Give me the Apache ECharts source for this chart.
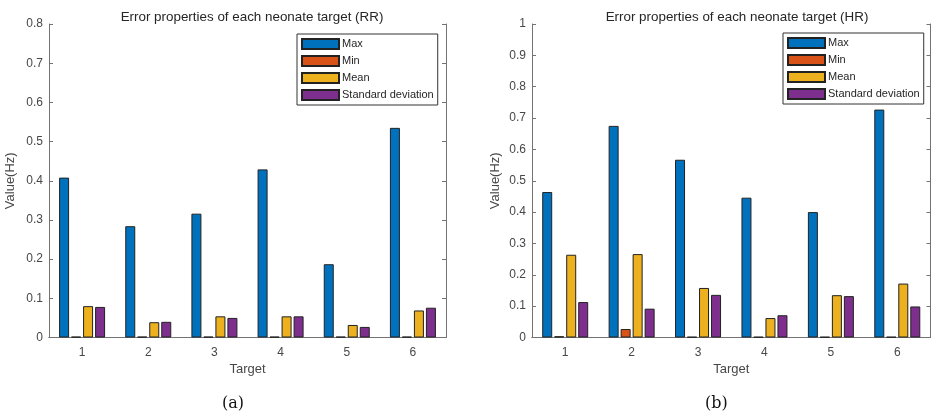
<!DOCTYPE html>
<html>
<head>
<meta charset="utf-8">
<script src="https://cdn.jsdelivr.net/npm/echarts@6/dist/echarts.min.js"></script>
<style>
  html, body { margin: 0; padding: 0; background: #fff; }
  #chart { width: 931px; height: 418px; }
</style>
</head>
<body>
<div id="chart"></div>
<script>
// Targets on the x axis
const targets = ['1', '2', '3', '4', '5', '6'];
const seriesNames = ['Max', 'Min', 'Mean', 'Standard deviation'];
const seriesColors = ['#0072BD', '#D95319', '#EDB120', '#7E2F8E'];

// Respiratory rate errors (Hz)
const rrMax  = [0.408, 0.284, 0.316, 0.429, 0.187, 0.535];
const rrMin  = [0.002, 0.002, 0.002, 0.002, 0.002, 0.002];
const rrMean = [0.080, 0.039, 0.054, 0.054, 0.032, 0.069];
const rrStd  = [0.078, 0.040, 0.050, 0.054, 0.027, 0.076];

// Heart rate errors (Hz)
const hrMax  = [0.464, 0.675, 0.567, 0.446, 0.400, 0.727];
const hrMin  = [0.004, 0.027, 0.002, 0.002, 0.002, 0.002];
const hrMean = [0.264, 0.266, 0.158, 0.062, 0.135, 0.172];
const hrStd  = [0.113, 0.092, 0.136, 0.071, 0.132, 0.099];

const axisColor = '#737373';
const labelColor = '#474747';
const font = 'Liberation Sans, Arial, sans-serif';

function xAxes(gridIndex) {
  return [
    {
      type: 'category', gridIndex, data: targets, position: 'bottom',
      name: 'Target', nameLocation: 'middle', nameGap: 25,
      nameTextStyle: { color: labelColor, fontSize: 13, fontFamily: font },
      axisLine: { lineStyle: { color: axisColor } },
      axisTick: { inside: true, alignWithLabel: true, length: 4, lineStyle: { color: axisColor } },
      axisLabel: { color: labelColor, fontSize: 12, fontFamily: font, margin: 9 },
      splitLine: { show: false }
    },
    {
      type: 'category', gridIndex, data: targets, position: 'top',
      axisLine: { lineStyle: { color: axisColor } },
      axisTick: { inside: true, alignWithLabel: true, length: 4, lineStyle: { color: axisColor } },
      axisLabel: { show: false },
      splitLine: { show: false }
    }
  ];
}

function yAxes(gridIndex, max, nameGap) {
  return [
    {
      type: 'value', gridIndex, min: 0, max, interval: 0.1, position: 'left',
      name: 'Value(Hz)', nameLocation: 'middle', nameGap,
      nameTextStyle: { color: labelColor, fontSize: 13, fontFamily: font },
      axisLine: { show: true, lineStyle: { color: axisColor } },
      axisTick: { show: true, inside: true, length: 4, lineStyle: { color: axisColor } },
      axisLabel: { color: labelColor, fontSize: 12, fontFamily: font, margin: 6,
                   formatter: v => (Math.round(v * 10) / 10).toString() },
      splitLine: { show: false }
    },
    {
      type: 'value', gridIndex, min: 0, max, interval: 0.1, position: 'right',
      axisLine: { show: true, lineStyle: { color: axisColor } },
      axisTick: { show: true, inside: true, length: 4, lineStyle: { color: axisColor } },
      axisLabel: { show: false },
      splitLine: { show: false }
    }
  ];
}

function barSeries(values, xIdx, yIdx) {
  return values.map((data, i) => ({
    type: 'bar',
    name: seriesNames[i],
    xAxisIndex: xIdx,
    yAxisIndex: yIdx,
    data,
    barWidth: 10,
    barGap: '20%',
    itemStyle: { color: seriesColors[i], borderColor: '#222', borderWidth: 1 },
    emphasis: { disabled: true }
  }));
}

function legend(left, top) {
  return {
    left, top,
    orient: 'vertical',
    data: seriesNames,
    icon: 'rect',
    itemWidth: 37, itemHeight: 10, itemGap: 5,
    padding: [4, 4, 4, 4],
    borderColor: '#333', borderWidth: 1,
    backgroundColor: '#fff',
    selectedMode: false,
    textStyle: { color: '#262626', fontSize: 11, fontFamily: font, padding: [0, 0, 0, -2] }
  };
}

const chart = echarts.init(document.getElementById('chart'), null, { renderer: 'canvas' });

chart.setOption({
  animation: false,
  backgroundColor: '#fff',
  title: [
    { text: 'Error properties of each neonate target (RR)', left: 247, top: 6, textAlign: 'center',
      textStyle: { color: '#262626', fontSize: 13.4, fontWeight: 'normal', fontFamily: font } },
    { text: 'Error properties of each neonate target (HR)', left: 732, top: 6, textAlign: 'center',
      textStyle: { color: '#262626', fontSize: 13.4, fontWeight: 'normal', fontFamily: font } }
  ],
  legend: [legend(297, 34), legend(783, 33)],
  grid: [
    { left: 49, top: 24, width: 397, height: 313.5 },
    { left: 532, top: 24, width: 398.5, height: 313.5 }
  ],
  xAxis: [...xAxes(0), ...xAxes(1)],
  yAxis: [...yAxes(0, 0.8, 32), ...yAxes(1, 1, 30)],
  series: [
    ...barSeries([rrMax, rrMin, rrMean, rrStd], 0, 0),
    ...barSeries([hrMax, hrMin, hrMean, hrStd], 2, 2)
  ],
  graphic: [
    { type: 'text', left: 222, top: 396,
      style: { text: '(a)', font: '16px "DejaVu Serif", serif', fill: '#111' } },
    { type: 'text', left: 705, top: 396,
      style: { text: '(b)', font: '16px "DejaVu Serif", serif', fill: '#111' } }
  ]
});
</script>
</body>
</html>
